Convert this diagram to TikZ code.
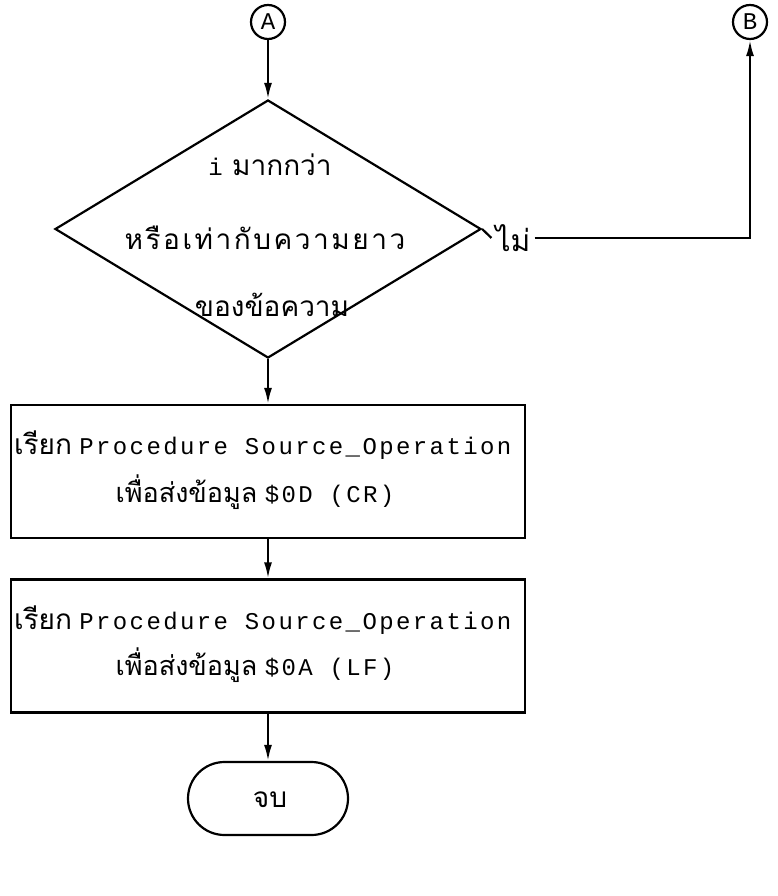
\documentclass[tikz,border=0pt]{standalone}
\usepackage{fontspec}
\newfontfamily\thaifont[Script=Thai]{Loma}
\newfontfamily\thaiwide[Script=Thai,LetterSpace=9]{Loma}
\newfontfamily\lmono[LetterSpace=10]{Liberation Mono}
\usetikzlibrary{shapes.geometric,shapes.misc,arrows.meta}
\begin{document}
\begin{tikzpicture}[x=1pt,y=-1pt,line width=2.2pt,
  conn/.style={draw,-{Latex[length=16pt,width=8pt]}},
  conncirc/.style={draw,circle,minimum size=34pt,inner sep=0pt,font=\lmono\fontsize{24}{26}\selectfont},
  decis/.style={draw,diamond,minimum width=426pt,minimum height=258pt,inner sep=0pt},
  procbox/.style={draw,rectangle,minimum width=514pt,minimum height=133pt,inner sep=0pt},
  termbox/.style={draw,rounded rectangle,minimum width=160pt,minimum height=73pt,inner sep=0pt},
  thtxt/.style={inner sep=1pt,font=\thaifont\fontsize{28}{32}\selectfont},
  mtxt/.style={inner sep=1pt,font=\fontsize{24}{28}\selectfont}]
\useasboundingbox (0,0) rectangle (778,896);

\node[conncirc] (A) at (268,22) {A};
\node[conncirc] (B) at (750,22) {B};

\node[decis] (D) at (268,229) {};
\node[thtxt] (d1) at (270,165) {{\lmono\fontsize{24}{28}\selectfont i} มากกว่า};
\node[thtxt,font=\thaiwide\fontsize{28}{32}\selectfont] (d2) at (265,238) {หรือเท่ากับความยาว};
\node[thtxt] (d3) at (272,305) {ของข้อความ};

\node[thtxt,inner sep=3pt,font=\thaifont\fontsize{30}{34}\selectfont] (no) at (513,238) {ไม่};

\node[procbox] (P1) at (268,471.5) {};
\node[mtxt,anchor=west] (p1a) at (12,445) {{\thaifont\fontsize{28}{32}\selectfont เรียก} {\lmono Procedure Source\_Operation}};
\node[mtxt] (p1b) at (255,492) {{\thaifont\fontsize{27}{32}\selectfont เพื่อส่งข้อมูล} {\lmono \$0D (CR)}};

\node[procbox] (P2) at (268,646) {};
\node[mtxt,anchor=west] (p2a) at (12,620) {{\thaifont\fontsize{28}{32}\selectfont เรียก} {\lmono Procedure Source\_Operation}};
\node[mtxt] (p2b) at (255,665) {{\thaifont\fontsize{27}{32}\selectfont เพื่อส่งข้อมูล} {\lmono \$0A (LF)}};

\node[termbox] (T) at (268,798.5) {};
\node[thtxt] (t1) at (270,800) {จบ};

\draw[conn] (A) -- (D.north);
\draw (D.east) -- (no.west);
\draw[conn] (no.east) -| (B.south);
\draw[conn] (D.south) -- (P1.north);
\draw[conn] (P1.south) -- (P2.north);
\draw[conn] (P2.south) -- (T.north);
\end{tikzpicture}
\end{document}
